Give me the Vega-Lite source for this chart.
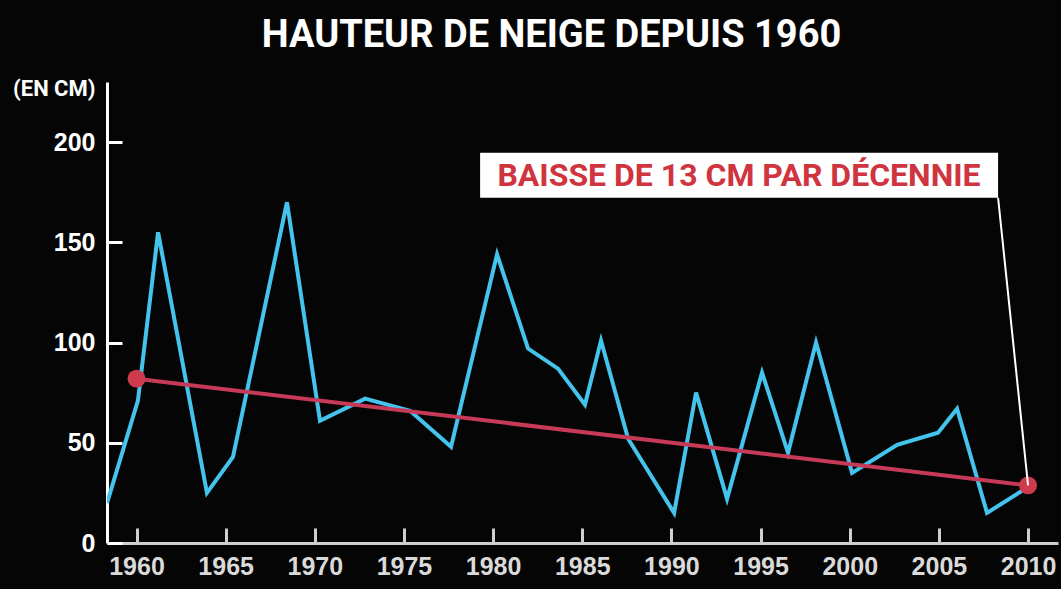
{
  "$schema": "https://vega.github.io/schema/vega-lite/v6.json",
  "width": 951,
  "height": 461,
  "autosize": {"type": "none"},
  "padding": {"left": 107, "top": 82, "right": 3, "bottom": 46},
  "background": "#050505",
  "title": {
    "text": "HAUTEUR DE NEIGE DEPUIS 1960",
    "color": "#ffffff",
    "font": "Roboto, sans-serif",
    "fontSize": 38,
    "fontWeight": "bold",
    "anchor": "middle",
    "dx": -31,
    "offset": 22
  },
  "config": {
    "view": {"stroke": null},
    "axis": {"grid": false}
  },
  "datasets": {
    "neige": [
      {"annee": 1958.35, "cm": 20},
      {"annee": 1960.08, "cm": 71},
      {"annee": 1961.21, "cm": 155},
      {"annee": 1963.95, "cm": 25},
      {"annee": 1965.41, "cm": 43},
      {"annee": 1968.44, "cm": 170},
      {"annee": 1970.29, "cm": 61},
      {"annee": 1972.82, "cm": 72},
      {"annee": 1975.34, "cm": 66},
      {"annee": 1977.64, "cm": 48},
      {"annee": 1980.22, "cm": 144},
      {"annee": 1981.96, "cm": 97},
      {"annee": 1983.64, "cm": 87},
      {"annee": 1985.15, "cm": 69},
      {"annee": 1986.05, "cm": 101},
      {"annee": 1987.57, "cm": 52},
      {"annee": 1990.15, "cm": 15},
      {"annee": 1991.38, "cm": 75},
      {"annee": 1993.12, "cm": 22},
      {"annee": 1995.08, "cm": 85},
      {"annee": 1996.54, "cm": 45},
      {"annee": 1998.11, "cm": 100},
      {"annee": 2000.13, "cm": 35},
      {"annee": 2002.66, "cm": 49},
      {"annee": 2004.95, "cm": 55},
      {"annee": 2006.02, "cm": 67},
      {"annee": 2007.70, "cm": 15},
      {"annee": 2010.0, "cm": 28}
    ],
    "tendance": [
      {"annee": 1960, "cm": 82},
      {"annee": 2010, "cm": 28.75}
    ],
    "note": [
      {"x1": 1979.27, "x2": 2008.32, "y1": 194.75, "y2": 172.25, "xt": 1993.79, "yt": 183, "texte": "BAISSE DE 13 CM PAR DÉCENNIE", "lx1": 2008.32, "ly1": 172.25, "lx2": 2010, "ly2": 28.75}
    ]
  },
  "layer": [
    {
      "data": {"name": "neige"},
      "mark": {"type": "line", "color": "#44c4ec", "strokeWidth": 4, "strokeJoin": "miter", "clip": true},
      "encoding": {
        "x": {
          "field": "annee", "type": "quantitative",
          "scale": {"domain": [1958.345, 2011.68], "nice": false, "zero": false},
          "axis": {
            "title": null,
            "values": [1960, 1965, 1970, 1975, 1980, 1985, 1990, 1995, 2000, 2005, 2010],
            "format": "d",
            "domainColor": "#cfcfcf", "domainWidth": 3,
            "tickColor": "#cfcfcf", "tickWidth": 3, "tickSize": -15,
            "labelColor": "#dadada", "labelFont": "Liberation Sans, Arial, sans-serif",
            "labelFontSize": 25, "labelFontWeight": "bold", "labelPadding": 26,
            "labelFlush": false, "labelOverlap": false
          }
        },
        "y": {
          "field": "cm", "type": "quantitative",
          "scale": {"domain": [0, 230], "nice": false},
          "axis": {
            "title": "(EN CM)",
            "titleAngle": 0, "titleAlign": "right", "titleBaseline": "middle",
            "titleX": -12, "titleY": 6,
            "titleColor": "#ffffff", "titleFont": "Roboto, sans-serif",
            "titleFontSize": 22, "titleFontWeight": "bold",
            "values": [0, 50, 100, 150, 200],
            "domainColor": "#ffffff", "domainWidth": 3,
            "tickColor": "#ffffff", "tickWidth": 3, "tickSize": -15,
            "labelColor": "#ffffff", "labelFont": "Liberation Sans, Arial, sans-serif",
            "labelFontSize": 25, "labelFontWeight": "bold", "labelPadding": 27
          }
        }
      }
    },
    {
      "data": {"name": "tendance"},
      "mark": {"type": "line", "color": "#c63a57", "strokeWidth": 4},
      "encoding": {
        "x": {"field": "annee", "type": "quantitative"},
        "y": {"field": "cm", "type": "quantitative"}
      }
    },
    {
      "data": {"name": "tendance"},
      "mark": {"type": "point", "filled": true, "color": "#cf3a4d", "size": 320, "opacity": 1},
      "encoding": {
        "x": {"field": "annee", "type": "quantitative"},
        "y": {"field": "cm", "type": "quantitative"}
      }
    },
    {
      "data": {"name": "note"},
      "mark": {"type": "rule", "color": "#ffffff", "strokeWidth": 2},
      "encoding": {
        "x": {"field": "lx1", "type": "quantitative"},
        "x2": {"field": "lx2"},
        "y": {"field": "ly1", "type": "quantitative"},
        "y2": {"field": "ly2"}
      }
    },
    {
      "data": {"name": "note"},
      "mark": {"type": "rect", "color": "#ffffff"},
      "encoding": {
        "x": {"field": "x1", "type": "quantitative"},
        "x2": {"field": "x2"},
        "y": {"field": "y1", "type": "quantitative"},
        "y2": {"field": "y2"}
      }
    },
    {
      "data": {"name": "note"},
      "mark": {"type": "text", "color": "#d0343f", "font": "Roboto, sans-serif", "fontSize": 32, "fontWeight": "bold", "align": "center", "baseline": "middle"},
      "encoding": {
        "x": {"field": "xt", "type": "quantitative"},
        "y": {"field": "yt", "type": "quantitative"},
        "text": {"field": "texte"}
      }
    }
  ]
}
